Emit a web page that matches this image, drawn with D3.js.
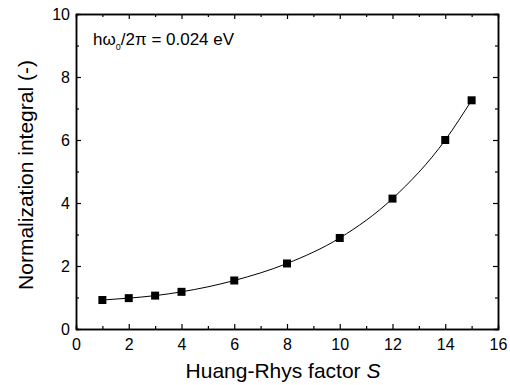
<!DOCTYPE html>
<html>
<head>
<meta charset="utf-8">
<script src="https://cdn.jsdelivr.net/npm/d3@7"></script>
<style>
  body { margin: 0; background: #fff; }
  text { font-family: "Liberation Sans", Arial, sans-serif; fill: #000; }
</style>
</head>
<body>
<div id="chart"></div>
<script>
// values
var sVals = [1, 2, 3, 4, 6, 8, 10, 12, 14, 15];
var normVals = [0.92, 0.98, 1.06, 1.18, 1.54, 2.08, 2.89, 4.14, 6.0, 7.26];
var xTicks = [0, 2, 4, 6, 8, 10, 12, 14, 16];
var yTicks = [0, 2, 4, 6, 8, 10];

var width = 510, height = 385;
var margin = { top: 14, right: 12, bottom: 56, left: 76 };
var inner_width = width - margin.left - margin.right;
var inner_height = height - margin.top - margin.bottom;

var svg = d3.select("#chart")
            .append("svg")
            .attr("width", width)
            .attr("height", height)
            .append("g")
            .attr("transform", "translate(" + margin.left + "," + margin.top + ")");

var x = d3.scaleLinear().domain([0, 16]).range([0, inner_width]);
var y = d3.scaleLinear().domain([0, 10]).range([inner_height, 0]);

var minorX = d3.range(1, 16, 2);
var minorY = d3.range(1, 10, 2);

// bottom axis with labels
var xAxis = svg.append("g")
  .attr("transform", "translate(0," + inner_height + ")")
  .call(d3.axisBottom(x).tickValues(xTicks).tickSizeInner(-5).tickSizeOuter(0).tickPadding(10));
// left axis with labels
var yAxis = svg.append("g")
  .call(d3.axisLeft(y).tickValues(yTicks).tickSizeInner(-5).tickSizeOuter(0).tickPadding(6));
// top + right, ticks only
var xTop = svg.append("g")
  .call(d3.axisTop(x).tickValues(xTicks).tickSizeInner(-5).tickSizeOuter(0).tickFormat(""));
var yRight = svg.append("g")
  .attr("transform", "translate(" + inner_width + ",0)")
  .call(d3.axisRight(y).tickValues(yTicks).tickSizeInner(-5).tickSizeOuter(0).tickFormat(""));

// minor ticks
svg.append("g").attr("transform", "translate(0," + inner_height + ")")
  .call(d3.axisBottom(x).tickValues(minorX).tickSize(-3).tickFormat(""));
svg.append("g")
  .call(d3.axisTop(x).tickValues(minorX).tickSize(-3).tickFormat(""));
svg.append("g")
  .call(d3.axisLeft(y).tickValues(minorY).tickSize(-3).tickFormat(""));
svg.append("g").attr("transform", "translate(" + inner_width + ",0)")
  .call(d3.axisRight(y).tickValues(minorY).tickSize(-3).tickFormat(""));

svg.selectAll(".domain").attr("stroke", "#000").attr("stroke-width", 1.5);
svg.selectAll(".tick line").attr("stroke", "#000").attr("stroke-width", 1.2);
svg.selectAll(".tick text").style("font-size", "16px").style("font-family", "Liberation Sans, Arial, sans-serif");

// fit line
var line = d3.line()
  .x(function(d, i) { return x(sVals[i]); })
  .y(function(d) { return y(d); })
  .curve(d3.curveMonotoneX);

svg.append("path")
  .datum(normVals)
  .attr("d", line)
  .attr("fill", "none")
  .attr("stroke", "#000")
  .attr("stroke-width", 1);

// square markers
var sz = 8;
svg.selectAll("rect.pt")
  .data(normVals)
  .enter()
  .append("rect")
  .attr("class", "pt")
  .attr("x", function(d, i) { return x(sVals[i]) - sz / 2; })
  .attr("y", function(d) { return y(d) - sz / 2; })
  .attr("width", sz)
  .attr("height", sz)
  .attr("fill", "#000");

// annotation
var ann = svg.append("text")
  .attr("x", 17)
  .attr("y", 31)
  .style("font-size", "17px");
ann.append("tspan").text("h\u03C9");
ann.append("tspan").attr("dy", 5).style("font-size", "9px").text("0");
ann.append("tspan").attr("dy", -5).text("/2\u03C0 = 0.024 eV");

// axis titles
var xt = svg.append("text")
  .attr("x", (183 + 383) / 2 - margin.left)
  .attr("y", inner_height + 49)
  .attr("text-anchor", "middle")
  .style("font-size", "21px");
xt.append("tspan").text("Huang-Rhys factor ");
xt.append("tspan").style("font-style", "italic").text("S");

svg.append("text")
  .attr("transform", "rotate(-90)")
  .attr("x", -(175 - margin.top))
  .attr("y", 33 - margin.left)
  .attr("text-anchor", "middle")
  .style("font-size", "21px")
  .text("Normalization integral (-)");
</script>
</body>
</html>
